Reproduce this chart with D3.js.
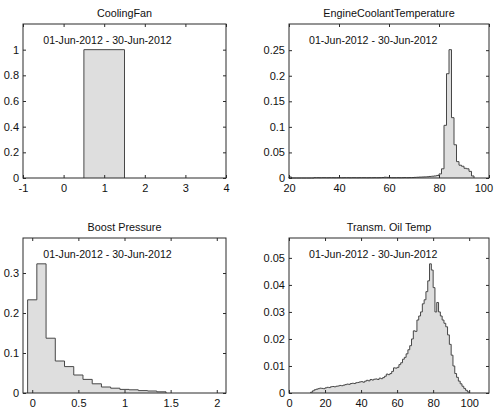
<!DOCTYPE html>
<html>
<head>
<meta charset="utf-8">
<script src="https://cdn.jsdelivr.net/npm/d3@7/dist/d3.min.js"></script>
<style>
  html, body { margin: 0; padding: 0; background: #fff; }
  svg { display: block; }
  text { font-family: "Liberation Sans", Arial, Helvetica, sans-serif; fill: #111; }
</style>
</head>
<body>
<svg id="chart" width="494" height="411"></svg>
<script>
// ---- data: normalised histograms (fraction of samples per bin) ----
const dateRange = "01-Jun-2012 - 30-Jun-2012";

// CoolingFan: single bin 0.5 .. 1.5
const fanStart = 0.5, fanWidth = 1;
const fanValues = [1];

// EngineCoolantTemperature: 1-degree bins starting at 20
const ectStart = 20, ectWidth = 1;
const ectValues = [
  0.002, 0, 0, 0, 0, 0, 0, 0, 0, 0,                       // 20-29
  0.0006, 0.0006, 0.0005, 0.0006, 0.0006, 0.0005, 0.0006, 0.0006, 0.0005, 0.0006, // 30-39
  0.0006, 0.0005, 0.0006, 0.0006, 0.0005, 0.0006, 0.0006, 0.0005, 0.0006, 0.0006, // 40-49
  0.0006, 0.0005, 0.0006, 0.0006, 0.0007, 0.0006, 0.0007, 0.0010, 0.0015, 0.0012, // 50-59
  0.0008, 0.0006, 0.0006, 0.0007, 0.0006, 0.0007, 0.0008, 0.0007, 0.0008, 0.0009, // 60-69
  0.0012, 0.0015, 0.0018, 0.0020, 0.0022, 0.0025, 0.0030, 0.0035, 0.0040, 0.0050, // 70-79
  0.0080, 0.0180, 0.103, 0.204, 0.251, 0.118, 0.065, 0.032, 0.025, 0.023,       // 80-89
  0.019, 0.018, 0.013, 0.004                                                      // 90-93
];

// Boost Pressure: 0.1-wide bins centred on 0, 0.1, 0.2 ...
const boostStart = -0.05, boostWidth = 0.1;
const boostValues = [0.233, 0.323, 0.137, 0.080, 0.066, 0.045, 0.034, 0.023,
                     0.015, 0.012, 0.009, 0.008, 0.006, 0.005, 0.003];

// Transm. Oil Temp: 1-degree bins starting at 12
const oilStart = 12, oilWidth = 1;
const oilValues = [
  0.0003, 0.0008, 0.0012, 0.0014, 0.0016, 0.0018, 0.0017, 0.0016,                 // 12-19
  0.0019, 0.0021, 0.0020, 0.0023, 0.0024, 0.0023, 0.0025, 0.0026, 0.0028, 0.0027, // 20-29
  0.0029, 0.0031, 0.0033, 0.0032, 0.0035, 0.0036, 0.0035, 0.0038, 0.0039, 0.0041, // 30-39
  0.0042, 0.0040, 0.0044, 0.0047, 0.0045, 0.0050, 0.0048, 0.0051, 0.0052, 0.0050, // 40-49
  0.0055, 0.0053, 0.0057, 0.0062, 0.0070, 0.0068, 0.0072, 0.0080, 0.0093, 0.0092, // 50-59
  0.0095, 0.0105, 0.0112, 0.0125, 0.0132, 0.0145, 0.0160, 0.0175, 0.0200, 0.0230, // 60-69
  0.0228, 0.0270, 0.0285, 0.0300, 0.0330, 0.0345, 0.0375, 0.0415, 0.0478, 0.0455, // 70-79
  0.0390, 0.0300, 0.0335, 0.0300, 0.0285, 0.0270, 0.0258, 0.0245, 0.0215, 0.0180, // 80-89
  0.0140, 0.0100, 0.0072, 0.0058, 0.0044, 0.0034, 0.0025, 0.0017, 0.0010, 0.0004  // 90-99
];

// tick values
const fanXTicks = [-1, 0, 1, 2, 3, 4];
const fanYTicks = [0, 0.2, 0.4, 0.6, 0.8, 1];
const ectXTicks = [20, 40, 60, 80, 100];
const ectYTicks = [0, 0.05, 0.1, 0.15, 0.2, 0.25];
const boostXTicks = [0, 0.5, 1, 1.5, 2];
const boostYTicks = [0, 0.1, 0.2, 0.3];
const oilXTicks = [0, 20, 40, 60, 80, 100];
const oilYTicks = [0, 0.01, 0.02, 0.03, 0.04, 0.05];

// ---- panel layout ----
const panels = [
  { title: "CoolingFan", start: fanStart, width: fanWidth, values: fanValues,
    xDomain: [-1, 4], xTicks: fanXTicks, yTicks: fanYTicks,
    box: { x0: 23, x1: 226, y0: 24, y1: 178 } },
  { title: "EngineCoolantTemperature", start: ectStart, width: ectWidth, values: ectValues,
    xDomain: [20, 100], xTicks: ectXTicks, yTicks: ectYTicks,
    box: { x0: 289, x1: 489, y0: 24, y1: 178 } },
  { title: "Boost Pressure", start: boostStart, width: boostWidth, values: boostValues,
    xDomain: [-0.1, 2.1], xTicks: boostXTicks, yTicks: boostYTicks,
    box: { x0: 23, x1: 226, y0: 238, y1: 393 } },
  { title: "Transm. Oil Temp", start: oilStart, width: oilWidth, values: oilValues,
    xDomain: [0, 111], xTicks: oilXTicks, yTicks: oilYTicks,
    box: { x0: 289, x1: 489, y0: 238, y1: 393 } }
];

const svg = d3.select("#chart");
const W = +svg.attr("width");
const fmt = d => String(+d.toFixed(4));
const axisColor = "#2b2b2b";

panels.forEach(p => {
  const b = p.box;
  const x = d3.scaleLinear().domain(p.xDomain).range([b.x0, b.x1]);
  const yMax = d3.max(p.values) * 1.2;
  const y = d3.scaleLinear().domain([0, yMax]).range([b.y1, b.y0]);
  const g = svg.append("g");

  // histogram outline as a step area
  const pts = [];
  p.values.forEach((v, i) => {
    const a = p.start + i * p.width;
    pts.push([a, v], [a + p.width, v]);
  });
  const first = p.start, last = p.start + p.values.length * p.width;
  const line = [[first, 0], ...pts, [last, 0]];
  g.append("path")
    .datum(line)
    .attr("d", d3.line().x(d => x(d[0])).y(d => y(d[1])))
    .attr("fill", "#dedede")
    .attr("stroke", "#474747")
    .attr("stroke-width", 1)
    .attr("stroke-linejoin", "miter");

  // axes with inward ticks on all four sides
  const tick = 3;
  const xb = g.append("g").attr("transform", `translate(0,${b.y1})`)
    .call(d3.axisBottom(x).tickValues(p.xTicks).tickFormat(fmt)
      .tickSizeInner(-tick).tickSizeOuter(0).tickPadding(6));
  const xt = g.append("g").attr("transform", `translate(0,${b.y0})`)
    .call(d3.axisTop(x).tickValues(p.xTicks).tickFormat("")
      .tickSizeInner(-tick).tickSizeOuter(0));
  const yl = g.append("g").attr("transform", `translate(${b.x0},0)`)
    .call(d3.axisLeft(y).tickValues(p.yTicks).tickFormat(fmt)
      .tickSizeInner(-tick).tickSizeOuter(0).tickPadding(4));
  const yr = g.append("g").attr("transform", `translate(${b.x1},0)`)
    .call(d3.axisRight(y).tickValues(p.yTicks).tickFormat("")
      .tickSizeInner(-tick).tickSizeOuter(0));
  [xb, xt, yl, yr].forEach(a => {
    a.select(".domain").remove();
    a.selectAll("line").attr("stroke", axisColor);
    a.selectAll("text").attr("font-size", "11px").attr("fill", "#111")
      .attr("font-family", '"Liberation Sans", Arial, Helvetica, sans-serif');
  });

  // keep edge tick labels inside the drawing area
  xb.selectAll(".tick text").each(function () {
    const bb = this.getBBox();
    const tx = +this.parentNode.getAttribute("transform").match(/translate\(([-\d.]+)/)[1];
    const over = tx + bb.x + bb.width - (W - 1);
    if (over > 0) d3.select(this).attr("x", -over);
  });

  // axes box
  g.append("rect")
    .attr("x", b.x0).attr("y", b.y0)
    .attr("width", b.x1 - b.x0).attr("height", b.y1 - b.y0)
    .attr("fill", "none").attr("stroke", axisColor).attr("stroke-width", 1);

  // title
  g.append("text")
    .attr("x", (b.x0 + b.x1) / 2).attr("y", b.y0 - 7.5)
    .attr("text-anchor", "middle").attr("font-size", "10.8px")
    .text(p.title);

  // date range annotation
  g.append("text")
    .attr("x", b.x0 + 0.1 * (b.x1 - b.x0)).attr("y", b.y0 + 20)
    .attr("font-size", "10.6px")
    .text(dateRange);
});
</script>
</body>
</html>
